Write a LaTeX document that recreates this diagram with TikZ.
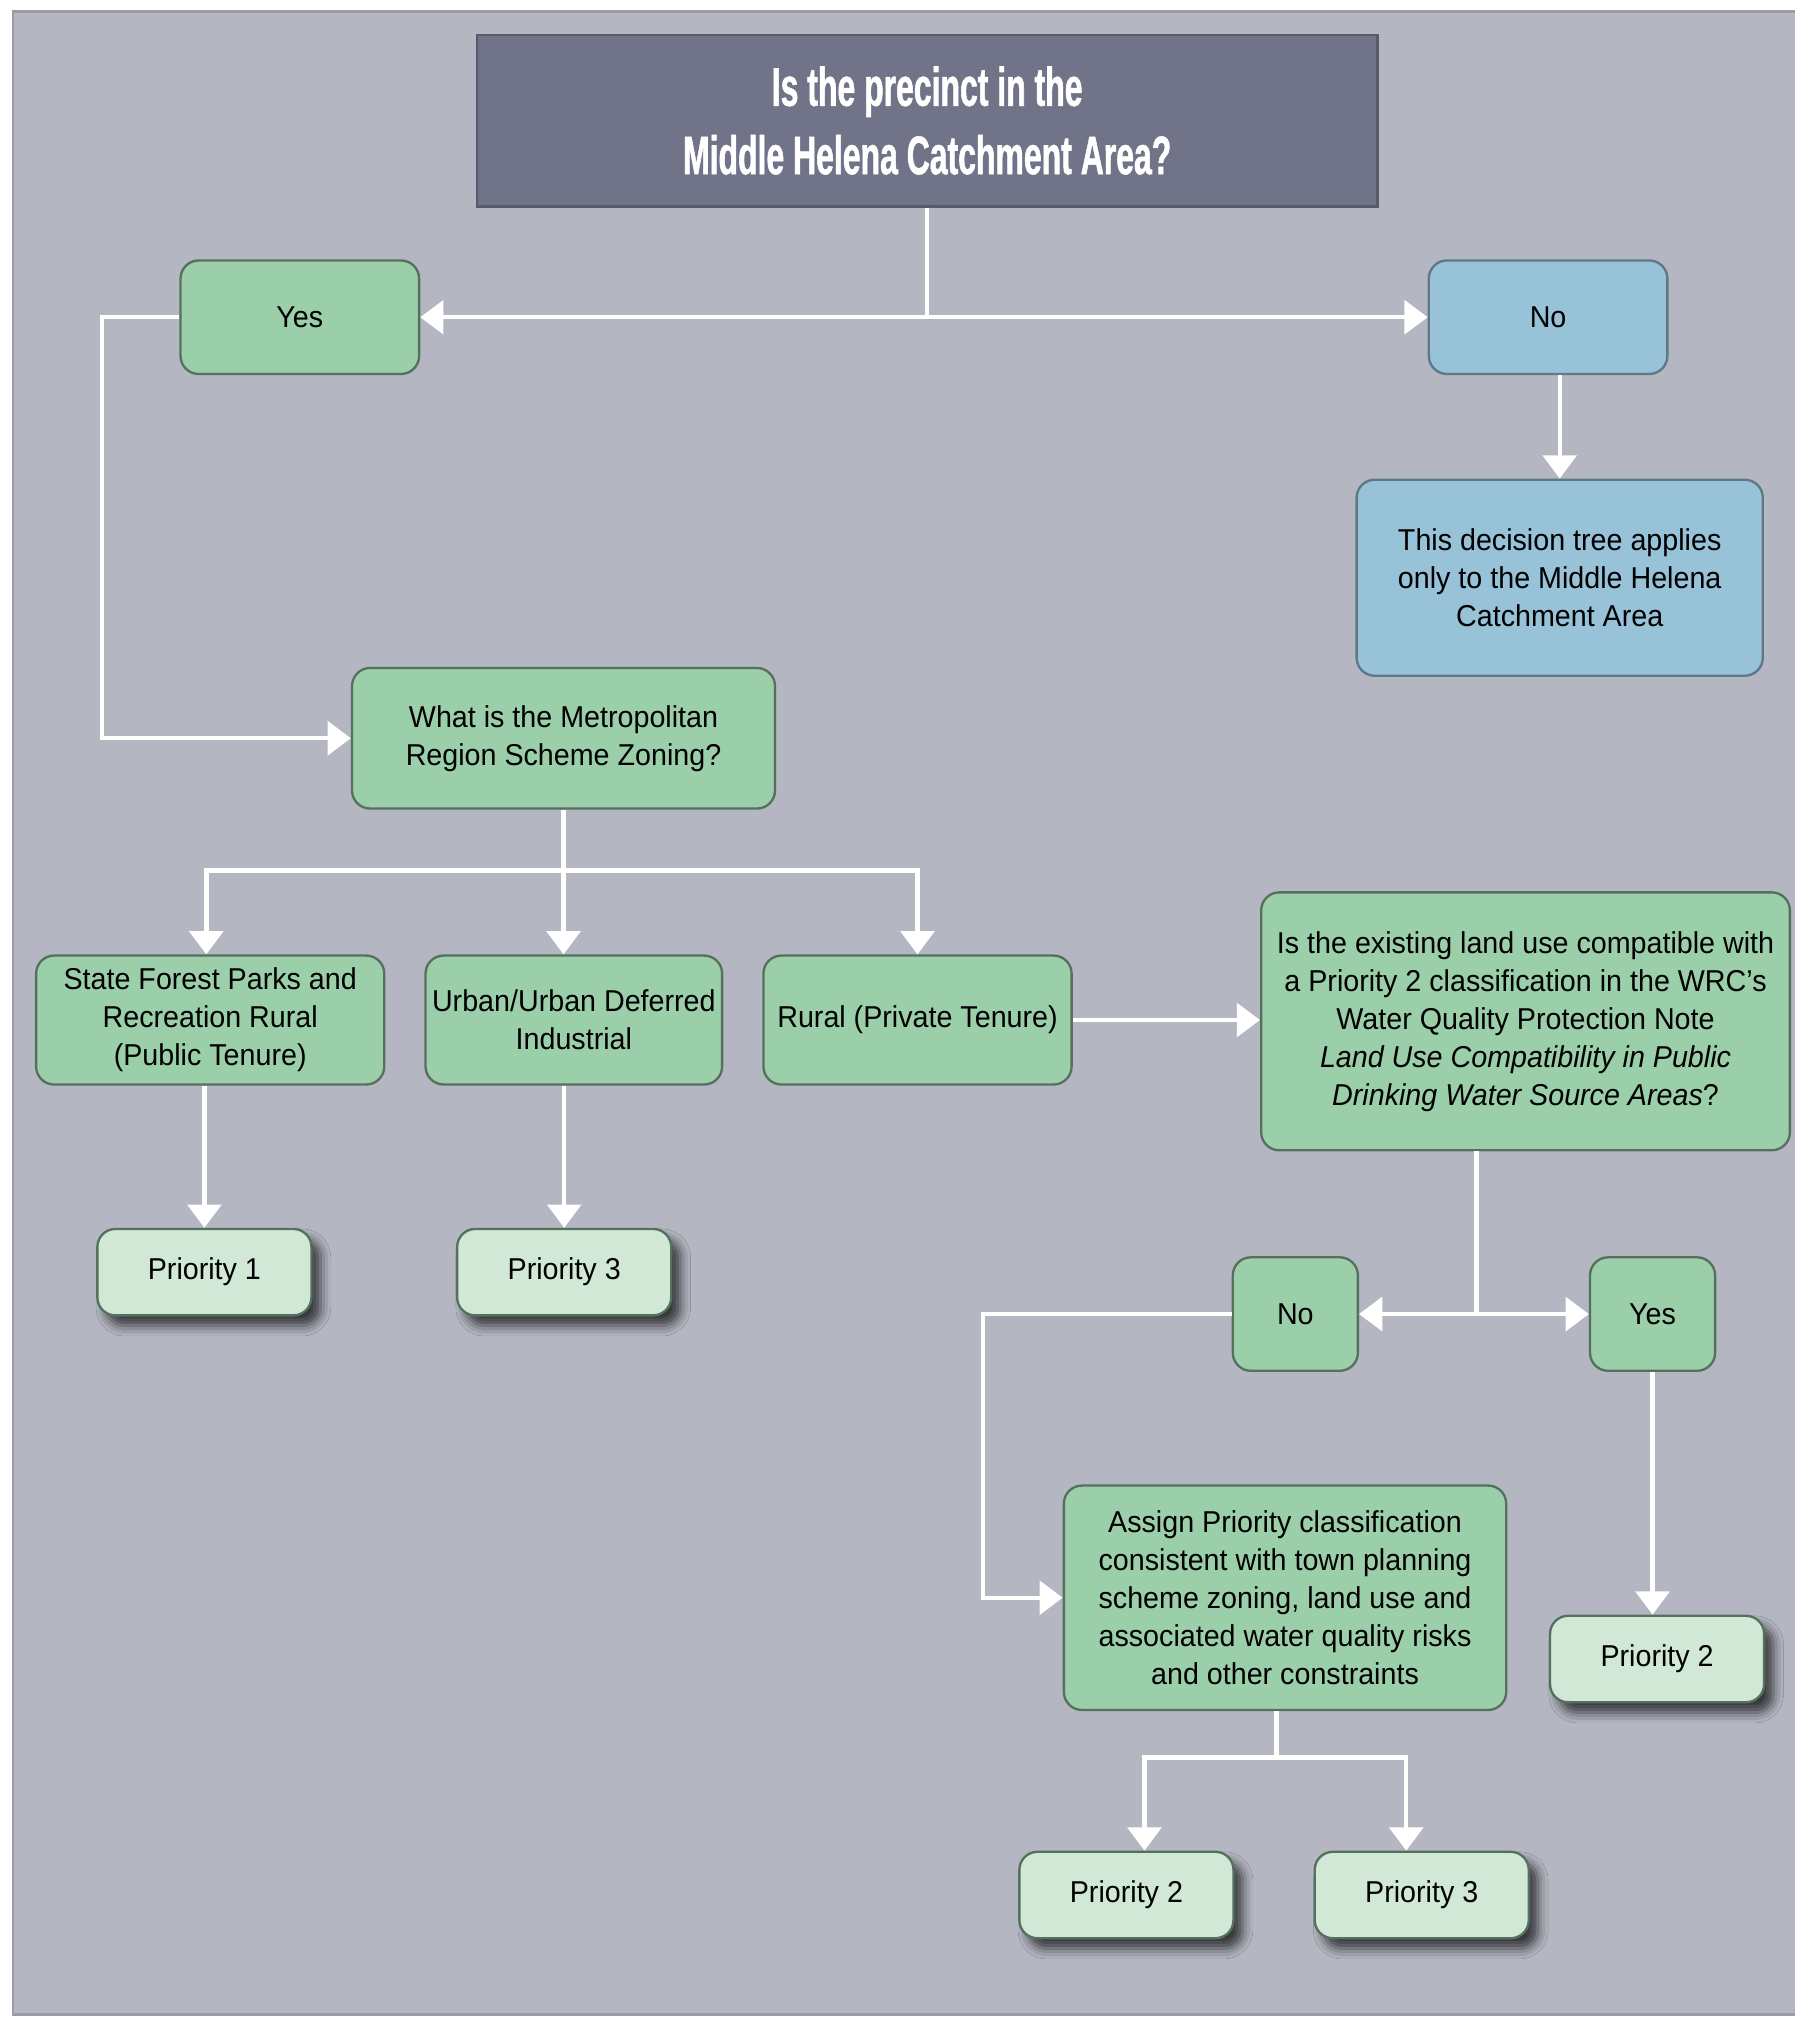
\documentclass[tikz,border=0pt]{standalone}
\usepackage{fontspec}
\setmainfont{Liberation Sans}[FakeStretch=0.95]
\newfontfamily\headfont{Liberation Sans}[FakeStretch=0.59, FakeBold=1]
\usepackage{tikz}
\usetikzlibrary{arrows.meta, shadows.blur}

\definecolor{panel}{HTML}{B4B6C1}
\definecolor{panelline}{HTML}{9A9CA6}
\definecolor{headfill}{HTML}{717488}
\definecolor{headline}{HTML}{585B6C}
\definecolor{boxgreen}{HTML}{9BCFAA}
\definecolor{boxblue}{HTML}{98C2D8}
\definecolor{boxlight}{HTML}{D0E8D5}
\definecolor{boxline}{HTML}{56705E}
\definecolor{blueline}{HTML}{5E7887}

\tikzstyle{arrow} = [line width=1.7pt, white, -{Triangle[length=9pt,width=13pt]}]
\tikzstyle{link} = [line width=1.7pt, white]
\tikzstyle{box} = [draw=boxline, fill=boxgreen, line width=0.9pt, rounded corners=7pt, inner sep=0pt, align=center, font=\fontsize{11.7}{14.75}\selectfont]
\tikzstyle{bluebox} = [box, draw=blueline, fill=boxblue]
\tikzstyle{result} = [box, fill=boxlight, minimum width=83pt, minimum height=33.5pt,
  blur shadow={shadow xshift=3.5pt, shadow yshift=-4pt, shadow blur radius=4pt, shadow opacity=70}]

\begin{document}
\begin{tikzpicture}[x=0.5pt, y=-0.5pt]
            % page and grey panel
            \fill[white] (0,0) rectangle (1392,1568);
            \useasboundingbox (0,0) rectangle (1392,1568);
            \fill[panel] (10,9) rectangle (1392,1562);
            \draw[panelline, line width=1pt] (1392,9) -- (10,9) -- (10,1562) -- (1392,1562);

            % question at the top
            \node[draw=headline, fill=headfill, line width=1pt, minimum width=349pt, minimum height=66.5pt, align=center,
                  text=white, font=\headfont\bfseries\fontsize{21}{26.5}\selectfont] (q) at (719,93.5)
                 {Is the precinct in the\\Middle Helena Catchment Area?};
            \node[box, minimum width=92.5pt, minimum height=44pt] (yes) at (232.5,246) {Yes};
            \node[bluebox, minimum width=92.5pt, minimum height=44pt] (no) at (1200.5,246) {No};
            \node[bluebox, minimum width=157.5pt, minimum height=76pt] (info) at (1209.5,448)
                 {This decision tree applies\\only to the Middle Helena\\Catchment Area};

            % MRS zoning
            \node[box, minimum width=164pt, minimum height=54.5pt] (mrs) at (437,572.5)
                 {What is the Metropolitan\\Region Scheme Zoning?};
            \node[box, minimum width=135pt, minimum height=50pt] (sf) at (163,791)
                 {State Forest Parks and\\Recreation Rural\\(Public Tenure)};
            \node[box, minimum width=115pt, minimum height=50pt] (ud) at (445,791)
                 {Urban/Urban Deferred\\Industrial};
            \node[box, minimum width=119.5pt, minimum height=50pt] (rp) at (711.5,791)
                 {Rural (Private Tenure)};
            \node[result] (p1) at (158.5,986.5) {Priority 1};
            \node[result] (p3) at (437.5,986.5) {Priority 3};

            % land use check for rural land
            \node[box, minimum width=205pt, minimum height=100pt] (wq) at (1183,792)
                 {Is the existing land use compatible with\\a Priority 2 classification in the WRC's\\Water Quality Protection Note\\
                  \textit{Land Use Compatibility in Public}\\\textit{Drinking Water Source Areas}?};
            \node[box, minimum width=48.5pt, minimum height=44pt] (no2) at (1004.5,1019) {No};
            \node[box, minimum width=48.5pt, minimum height=44pt] (yes2) at (1281.5,1019) {Yes};
            \node[box, minimum width=171.5pt, minimum height=87pt] (asg) at (996.5,1239)
                 {Assign Priority classification\\consistent with town planning\\scheme zoning, land use and\\associated water quality risks\\and other constraints};
            \node[result] (p2) at (1285,1286.5) {Priority 2};
            \node[result] (p2b) at (873.5,1469.5) {Priority 2};
            \node[result] (p3b) at (1102.5,1469.5) {Priority 3};

            \coordinate (fork) at (719,246);
            \coordinate (split) at (437,675);
            \coordinate (wqs) at (1145,1019);
            \coordinate (asgs) at (990,1363);

            \draw[link] (q) -- (fork);
            \draw[arrow] (fork) -- (yes.east);
            \draw[arrow] (fork) -- (no.west);
            \draw[arrow] (yes.west) -- ++(-60,0) |- (mrs.west);
            \draw[arrow] (info.north |- no.south) -- (info.north);

            \draw[link] (mrs) -- (split);
            \draw[arrow] (split) -| ([xshift=-1.5pt]sf.north);
            \draw[arrow] (split) -- (split |- ud.north);
            \draw[arrow] (split) -| (rp.north);
            \draw[arrow] (rp.east) -- (wq.west |- rp.east);
            \draw[arrow] (sf.south -| p1.north) -- (p1.north);
            \draw[arrow] (p3.north |- ud.south) -- (p3.north);

            \draw[link] (wqs |- wq.south) -- (wqs);
            \draw[arrow] (wqs) -- (no2.east);
            \draw[arrow] (wqs) -- (yes2.west);
            \draw[arrow] (no2.west) -- ++(-193,0) |- (asg.west);
            \draw[arrow] (yes2.south) -- (yes2.south |- p2.north);

            \draw[link] (asgs |- asg.south) -- (asgs);
            \draw[arrow] (asgs) -| ([xshift=7pt]p2b.north);
            \draw[arrow] (asgs) -| ([xshift=-6pt]p3b.north);
        \end{tikzpicture}
\end{document}
